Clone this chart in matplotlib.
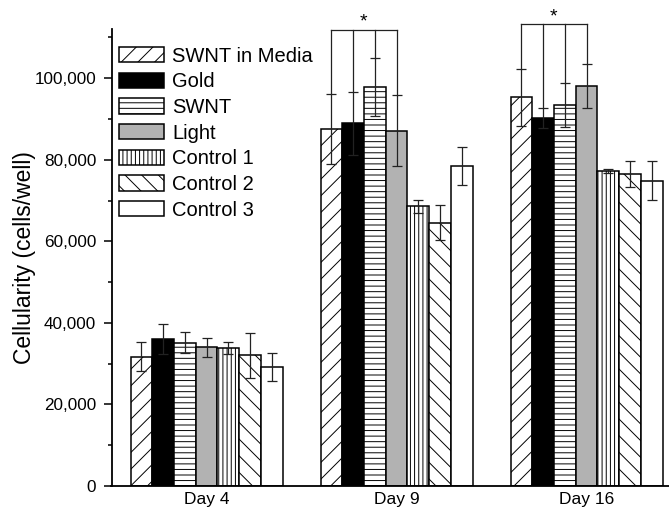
import numpy as np
import matplotlib
matplotlib.use("Agg")
import matplotlib.pyplot as plt
from matplotlib.ticker import FuncFormatter, MultipleLocator

plt.rcParams["font.family"] = ["Liberation Sans", "DejaVu Sans"]
plt.rcParams["hatch.linewidth"] = 0.7

days = ["Day 4", "Day 9", "Day 16"]
groups = ["SWNT in Media", "Gold", "SWNT", "Light", "Control 1", "Control 2", "Control 3"]

# 每组在 Day 4 / Day 9 / Day 16 的均值与误差
means = {
    "SWNT in Media": [31700, 87500, 95300],
    "Gold": [35950, 88900, 90350],
    "SWNT": [35150, 97800, 93400],
    "Light": [34000, 87100, 98100],
    "Control 1": [33750, 68600, 77200],
    "Control 2": [32050, 64550, 76450],
    "Control 3": [29150, 78450, 74850],
}
errors = {
    "SWNT in Media": [3500, 8650, 7050],
    "Gold": [3700, 7700, 2450],
    "SWNT": [2550, 7050, 5350],
    "Light": [2400, 8700, 5300],
    "Control 1": [1450, 1650, 550],
    "Control 2": [5550, 4250, 3200],
    "Control 3": [3400, 4700, 4800],
}

# 显著性标记: (天的索引, 括号高度)
sig_days = [1, 2]
sig_heights = [111800, 113200]

styles = {
    "SWNT in Media": ("white", "//"),
    "Gold": ("black", None),
    "SWNT": ("white", "---"),
    "Light": ("#b2b2b2", None),
    "Control 1": ("white", "||||"),
    "Control 2": ("white", "\\\\"),
    "Control 3": ("white", None),
}

fig = plt.figure(figsize=(6.69, 5.13), dpi=100)
ax = fig.add_axes([111.5 / 669, 27 / 513, 570 / 669, 456.7 / 513])

x = np.arange(len(days))
width = 0.8 / len(groups)
for i, g in enumerate(groups):
    pos = x - 0.4 + width * (i + 0.5)
    fc, hatch = styles[g]
    ax.bar(pos, means[g], width, color=fc, edgecolor="black", linewidth=1.1,
           hatch=hatch, label=g, zorder=2)
    ax.errorbar(pos, means[g], yerr=errors[g], fmt="none", ecolor="#222222",
                elinewidth=0.9, capsize=3.5, capthick=0.9, zorder=3)

# 括号与星号
for d, h in zip(sig_days, sig_heights):
    xs = [d - 0.4 + width * (i + 0.5) for i in range(4)]
    for i, xi in enumerate(xs):
        top = means[groups[i]][d] + errors[groups[i]][d]
        ax.plot([xi, xi], [top, h], color="#222222", lw=0.9, clip_on=False, zorder=3)
    ax.plot([xs[0], xs[-1]], [h, h], color="#222222", lw=0.9, clip_on=False, zorder=3)
    ax.text((xs[0] + xs[-1]) / 2, h - 200, "*", ha="center", va="bottom",
            fontsize=14, clip_on=False)

ax.set_xlim(-0.5, 2.5)
ax.set_ylim(0, 112000)
ax.set_xticks(x)
ax.set_xticklabels(days, fontsize=12.5)
ax.tick_params(axis="x", length=0, pad=4)
ax.yaxis.set_major_locator(MultipleLocator(20000))
ax.yaxis.set_minor_locator(MultipleLocator(10000))
ax.yaxis.set_major_formatter(FuncFormatter(lambda v, p: f"{int(v):,}"))
ax.tick_params(axis="y", which="major", length=6, width=1.1, labelsize=12.3, pad=5)
ax.tick_params(axis="y", which="minor", length=3, width=1.1)
ax.set_ylabel("Cellularity (cells/well)", fontsize=16.5, labelpad=-1)

for s in ["top", "right"]:
    ax.spines[s].set_visible(False)
for s in ["left", "bottom"]:
    ax.spines[s].set_linewidth(1.3)

ax.legend(loc="upper left", bbox_to_anchor=(0.0133, 0.962), frameon=False,
          fontsize=14.5, handlelength=2.25, handleheight=0.8,
          handletextpad=0.4, labelspacing=0.33, borderpad=0, borderaxespad=0)

fig.savefig("out.png", dpi=100)
